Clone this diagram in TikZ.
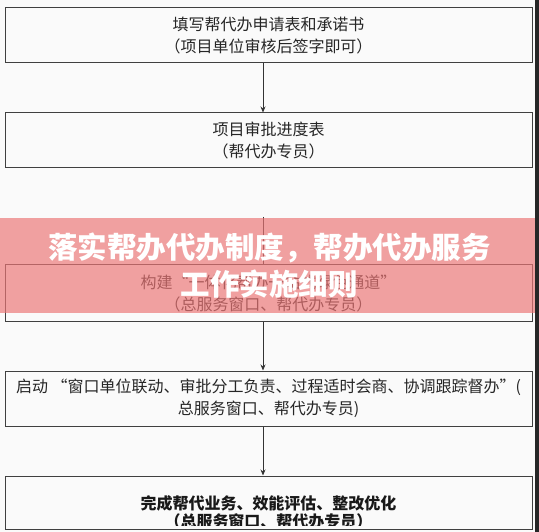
\documentclass[tikz,border=0pt]{standalone}
\usepackage{fontspec}
\setmainfont{Noto Sans CJK SC}
\usetikzlibrary{
	arrows.meta,
	positioning,
}
\definecolor{bannerred}{RGB}{236,118,118}
\tikzset{flowbox/.style={
		% The shape:
		rectangle,
		% The size:
		minimum width=527pt,minimum height=55pt,inner sep=0pt,
		% The border:
		line width=1pt,
		draw=black!75,
		% the text, two lines, centred
		align=center,text=black!85,
		font=\fontsize{16}{22}\selectfont,
}}
\tikzset{banner/.style={
		% The shape:
		rectangle,
		% The size:
		minimum width=539pt,minimum height=95pt,inner sep=0pt,
		% The filling, see-through:
		fill=bannerred,fill opacity=0.68,text opacity=1,
		% the title
		align=center,text=white,
		font=\fontsize{29.5}{37}\selectfont\bfseries,
}}

\begin{document}
\begin{tikzpicture}[x=1pt,y=-1pt,>={Stealth[length=6pt,width=5pt]},thick,black!80,text=black]
	\fill[black!2] (0,0) rectangle (539,532);
	\useasboundingbox (0,0) rectangle (539,532);
	\node[flowbox] (apply) at (268.5,35.5) {填写帮代办申请表和承诺书\\（项目单位审核后签字即可）};
	\node[flowbox,below=49pt of apply] (schedule) {项目审批进度表\\（帮代办专员）};
	\node[flowbox,below=96pt of schedule,minimum height=57pt] (build) {构建“一体化帮办一站式绿色通道”\\（总服务窗口、帮代办专员）};
	\node[flowbox,below=48pt of build] (launch) {启动\ “窗口单位联动、审批分工负责、过程适时会商、协调跟踪督办”(\\总服务窗口、帮代办专员)};
	\node[flowbox,below=49pt of launch,minimum height=53pt] (done) {};
	% the last box is cut off at the bottom
	\begin{scope}
		\clip (done.north west) rectangle ([yshift=4pt]done.south east);
		\node[align=center,text=black!90,font=\fontsize{16}{18}\selectfont\bfseries] (doneText) at ([yshift=-10pt]done.center) {完成帮代业务、效能评估、整改优化\\（总服务窗口、帮代办专员）};
	\end{scope}
	\coordinate (spine) at (263,0);
	\coordinate (cut) at (263,217);
	\draw[->] (apply.south -| spine) -- (schedule.north -| spine);
	\draw (cut) -- (build.north -| spine);
	\draw[->] (build.south -| spine) -- (launch.north -| spine);
	\draw[->] (launch.south -| spine) -- (done.north -| spine);
	\node[banner] (title) at (269.5,265.5) {落实帮办代办制度，帮办代办服务\\工作实施细则};
	\fill[black!85] (535,0) rectangle (539,532);
\end{tikzpicture}
\end{document}
